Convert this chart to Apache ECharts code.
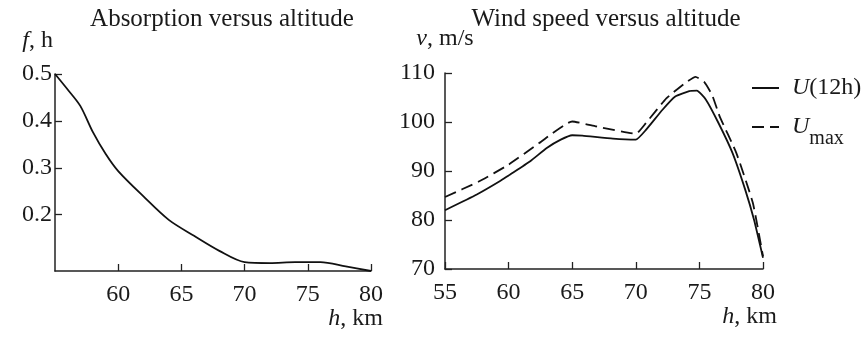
<!DOCTYPE html>
<html>
<head>
<meta charset="utf-8">
<script src="https://cdn.jsdelivr.net/npm/echarts@6/dist/echarts.min.js"></script>
<style>
  html, body { margin: 0; padding: 0; background: #fff; }
  #chart { width: 865px; height: 339px; }
</style>
</head>
<body>
<div id="chart"></div>
<script>
// absorption curve (left panel)
const absH = [55, 56, 57, 58, 59, 60, 62, 64, 66, 68, 70, 72, 74, 76, 78, 80];
const absF = [0.5, 0.467, 0.432, 0.376, 0.330, 0.293, 0.239, 0.189, 0.155, 0.123, 0.099, 0.097, 0.099, 0.099, 0.090, 0.080];

// wind speed (right panel)
const u12H = [55, 57.5, 59.3, 60, 61.7, 63, 64.1, 65, 65.8, 68.2, 70, 70.8, 72.1, 73.1, 74.2, 74.8, 75.5, 76.5, 77.6, 78.6, 79.3, 80];
const u12V = [82.0, 85.2, 87.9, 89.1, 92.0, 94.7, 96.4, 97.3, 97.2, 96.6, 96.4, 98.4, 102.5, 105.2, 106.3, 106.4, 104.6, 99.8, 93.7, 86.2, 80.0, 72.3];
const umaxH = [55, 57.7, 60, 62.4, 65, 66.9, 70, 70.8, 72.4, 73.9, 74.7, 75.4, 76, 76.6, 77.9, 79.2, 80];
const umaxV = [84.7, 87.9, 91.3, 95.7, 100.1, 99.1, 97.6, 99.8, 104.8, 108.0, 109.2, 108.1, 105.5, 101.1, 93.7, 83.5, 72.6];

const absTicks = [0.2, 0.3, 0.4, 0.5];
const absXTicks = [60, 65, 70, 75, 80];

const FONT = '"Liberation Serif", "Times New Roman", serif';
const INK = '#1a1a1a';

const pairs = (xs, ys) => xs.map((x, i) => [x, ys[i]]);

const axisCommon = {
  axisLine: { lineStyle: { color: '#222', width: 1.5 } },
  axisTick: { inside: true, length: 7, lineStyle: { color: '#222', width: 1.3 } },
  splitLine: { show: false },
  axisLabel: { color: INK, fontFamily: FONT, fontSize: 24 },
  nameTextStyle: { color: INK, fontFamily: FONT, fontSize: 24 }
};
const italic = { fontStyle: 'italic', fontFamily: FONT, fontSize: 24, color: INK };

const legendCommon = {
  orient: 'vertical', left: 751, itemWidth: 27, itemHeight: 14, padding: 0,
  itemStyle: { opacity: 0 }
};

const chart = echarts.init(document.getElementById('chart'), null, { renderer: 'canvas' });
chart.setOption({
  backgroundColor: '#fff',
  animation: false,
  title: [
    { text: 'Absorption versus altitude', left: 222, top: 7, padding: 0, textAlign: 'center',
      textStyle: { fontFamily: FONT, fontSize: 25, fontWeight: 'normal', color: INK } },
    { text: 'Wind speed versus altitude', left: 606, top: 7, padding: 0, textAlign: 'center',
      textStyle: { fontFamily: FONT, fontSize: 25, fontWeight: 'normal', color: INK } }
  ],
  legend: [
    Object.assign({}, legendCommon, {
      data: ['U(12h)'], top: 76,
      formatter: () => '{i|U}(12h)',
      textStyle: { fontFamily: FONT, fontSize: 24, color: INK, padding: [0, 0, 0, 8], rich: { i: italic } }
    }),
    Object.assign({}, legendCommon, {
      data: ['Umax'], top: 115,
      formatter: () => '{i|U}{sub|max}',
      textStyle: { fontFamily: FONT, fontSize: 24, color: INK, padding: [0, 0, 0, 8],
        rich: { i: italic, sub: { fontFamily: FONT, fontSize: 20, color: INK, padding: [24, 0, 0, 0] } } }
    })
  ],
  grid: [
    { left: 55, right: 494, top: 74, bottom: 68 },
    { left: 445, right: 102, top: 73, bottom: 70 }
  ],
  xAxis: [
    Object.assign({}, axisCommon, {
      gridIndex: 0, type: 'value', min: 55, max: 80,
      axisLabel: Object.assign({}, axisCommon.axisLabel, { margin: 12, customValues: absXTicks }),
      axisTick: Object.assign({}, axisCommon.axisTick, { customValues: absXTicks }),
      name: '{i|h}, km', nameLocation: 'end', nameGap: 12,
      nameTextStyle: Object.assign({}, axisCommon.nameTextStyle, { align: 'right', verticalAlign: 'top', padding: [36, 0, 0, 0], rich: { i: italic } })
    }),
    Object.assign({}, axisCommon, {
      gridIndex: 1, type: 'value', min: 55, max: 80, interval: 5,
      axisLabel: Object.assign({}, axisCommon.axisLabel, { margin: 12 }),
      name: '{i|h}, km', nameLocation: 'end', nameGap: 14,
      nameTextStyle: Object.assign({}, axisCommon.nameTextStyle, { align: 'right', verticalAlign: 'top', padding: [36, 0, 0, 0], rich: { i: italic } })
    })
  ],
  yAxis: [
    Object.assign({}, axisCommon, {
      gridIndex: 0, type: 'value', min: 0.08, max: 0.5,
      axisLabel: Object.assign({}, axisCommon.axisLabel, { margin: 3, customValues: absTicks }),
      axisTick: Object.assign({}, axisCommon.axisTick, { customValues: absTicks }),
      name: '{i|f}, h', nameLocation: 'end', nameGap: 33,
      nameTextStyle: Object.assign({}, axisCommon.nameTextStyle, { align: 'right', verticalAlign: 'middle', padding: [0, 2, 0, 0], rich: { i: italic } })
    }),
    Object.assign({}, axisCommon, {
      gridIndex: 1, type: 'value', min: 70, max: 110, interval: 10,
      axisLabel: Object.assign({}, axisCommon.axisLabel, { margin: 10 }),
      name: '{i|v}, m/s', nameLocation: 'end', nameGap: 34,
      nameTextStyle: Object.assign({}, axisCommon.nameTextStyle, { align: 'center', verticalAlign: 'middle', rich: { i: italic } })
    })
  ],
  series: [
    { type: 'line', xAxisIndex: 0, yAxisIndex: 0, data: pairs(absH, absF), smooth: 0.3,
      showSymbol: false, symbol: 'none', lineStyle: { color: '#111', width: 1.8 } },
    { name: 'U(12h)', type: 'line', xAxisIndex: 1, yAxisIndex: 1, data: pairs(u12H, u12V), smooth: 0.15,
      showSymbol: false, symbol: 'none', lineStyle: { color: '#111', width: 1.8 }, itemStyle: { color: '#111' } },
    { name: 'Umax', type: 'line', xAxisIndex: 1, yAxisIndex: 1, data: pairs(umaxH, umaxV), smooth: 0.15,
      showSymbol: false, symbol: 'none', lineStyle: { color: '#111', width: 1.8, type: [12, 6] }, itemStyle: { color: '#111' } }
  ]
});
</script>
</body>
</html>
